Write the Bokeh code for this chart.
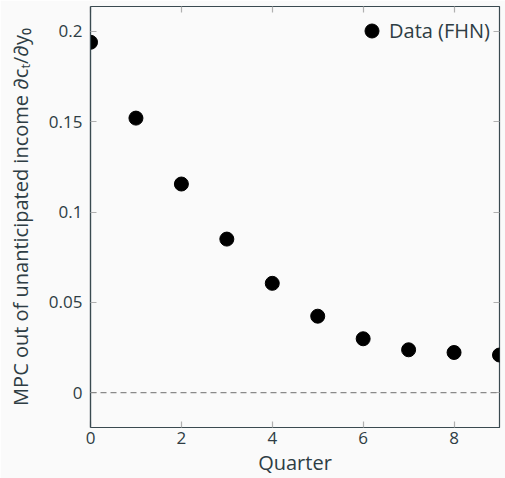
from bokeh.plotting import figure
from bokeh.models import Range1d, Span, LinearAxis, Label, Legend, LegendItem, FixedTicker
from bokeh.embed import file_html
from bokeh.resources import INLINE

quarters = [0, 1, 2, 3, 4, 5, 6, 7, 8, 9]
mpc = [0.194, 0.152, 0.1155, 0.085, 0.0605, 0.0423, 0.0298, 0.0237, 0.0222, 0.0208]
x_ticks = [0, 2, 4, 6, 8]
y_ticks = [0, 0.05, 0.1, 0.15, 0.2]
y_tick_labels = {0: "0", 0.05: "0.05", 0.1: "0.1", 0.15: "0.15", 0.2: "0.2"}

FONT = "Open Sans"
TXT = "#2e3d44"
BG = "#fafafa"

p = figure(width=505, height=478, output_backend="svg", toolbar_location=None,
           x_range=Range1d(0, 9), y_range=Range1d(-0.01934, 0.21381),
           min_border_left=90, min_border_right=6, min_border_top=6, min_border_bottom=50)
p.background_fill_color = BG
p.border_fill_color = BG
p.outline_line_color = "#3a4a50"
p.outline_line_width = 1.2
p.grid.visible = False

for ax in (p.xaxis[0], p.yaxis[0]):
    ax.axis_line_color = "#3a4a50"
    ax.axis_line_width = 1.2
    ax.major_tick_in = 6
    ax.major_tick_out = 0
    ax.minor_tick_line_color = None
    ax.major_tick_line_color = "#b0b0b0"
    ax.major_tick_line_width = 1.2
    ax.major_label_text_font = FONT
    ax.major_label_text_font_size = "17px"
    ax.major_label_text_color = TXT
    ax.axis_label_text_font = FONT
    ax.axis_label_text_font_size = "20px"
    ax.axis_label_text_font_style = "normal"
    ax.axis_label_text_color = TXT

p.xaxis[0].ticker = FixedTicker(ticks=x_ticks)
p.yaxis[0].ticker = FixedTicker(ticks=y_ticks)
p.yaxis[0].major_label_overrides = y_tick_labels
p.xaxis[0].major_label_standoff = 4
p.yaxis[0].major_label_standoff = 8
p.xaxis[0].axis_label = "Quarter"
p.xaxis[0].axis_label_standoff = 2
p.yaxis[0].axis_label = "MPC out of unanticipated income \u2202c\u209c/\u2202y\u2080"
p.yaxis[0].axis_label_standoff = 12

top = LinearAxis(ticker=FixedTicker(ticks=x_ticks),
                 major_label_overrides={t: "" for t in x_ticks},
                 major_tick_in=6, major_tick_out=0, minor_tick_line_color=None,
                 axis_line_color=None, major_tick_line_color="#b0b0b0",
                 major_tick_line_width=1.2, major_label_standoff=0)
right = LinearAxis(ticker=FixedTicker(ticks=y_ticks),
                   major_label_overrides={t: "" for t in y_ticks},
                   major_tick_in=6, major_tick_out=0, minor_tick_line_color=None,
                   axis_line_color=None, major_tick_line_color="#b0b0b0",
                   major_tick_line_width=1.2, major_label_standoff=0)
p.add_layout(top, "above")
p.add_layout(right, "right")

p.add_layout(Span(location=0, dimension="width", line_color="#8a8a8a",
                  line_dash="6 4", line_width=1.3))

r = p.scatter(quarters, mpc, size=14, color="black")

legend = Legend(items=[LegendItem(label="Data (FHN)", renderers=[r])],
                location=(264, 379), background_fill_alpha=0, border_line_color=None,
                label_text_font=FONT, label_text_font_size="20px", label_text_color=TXT,
                glyph_width=35, glyph_height=35, label_standoff=0,
                margin=0, padding=0, spacing=0)
p.add_layout(legend)

p.add_layout(Label(x=405, y=-29, x_units="screen", y_units="screen", text="7",
                   text_font=FONT, text_font_size="20px", text_color=TXT,
                   text_baseline="middle", level="overlay"))

open("out.html", "w").write(file_html(p, INLINE))
